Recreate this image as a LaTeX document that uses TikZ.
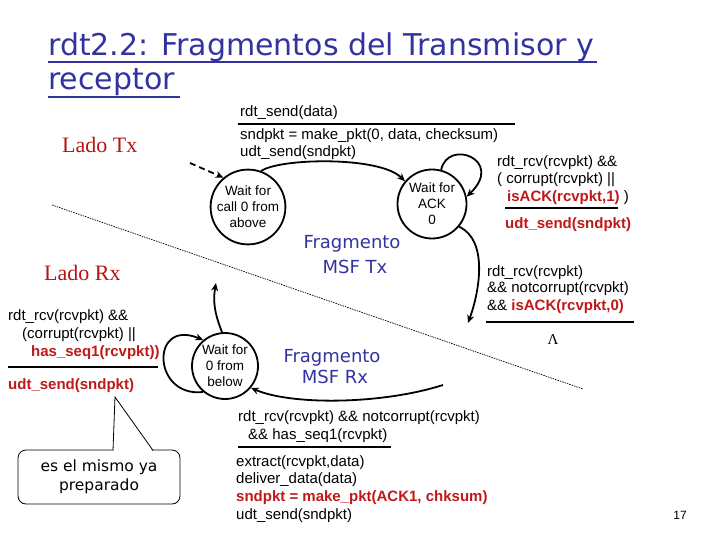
\documentclass[tikz,border=0pt]{standalone}
\usepackage{fontspec}
\setmainfont{Liberation Sans}
\newfontfamily\serifff{Liberation Serif}
\newfontfamily\comic{DejaVu Sans}
\usetikzlibrary{arrows.meta}
\definecolor{tblue}{RGB}{51,51,160}
\definecolor{tred}{RGB}{192,24,24}
\definecolor{lred}{RGB}{180,20,20}
\begin{document}
\begin{tikzpicture}[x=1pt,y=-1pt,
  state/.style={circle, draw, line width=1.8pt, minimum size=69pt, inner sep=0pt, align=center, font=\fontsize{13.5}{16}\selectfont},
  lbl/.style={anchor=base west, inner sep=0pt, font=\fontsize{15}{17}\selectfont},
  rb/.style={text=tred, font=\fontsize{15}{17}\selectfont\bfseries},
  arr/.style={line width=1.8pt, -{Stealth[length=8pt,width=7pt]}},
  bar/.style={line width=2.5pt},
  frag/.style={anchor=base, inner sep=0pt, text=tblue, font=\comic\fontsize{18}{22}\selectfont},
  lado/.style={anchor=base west, inner sep=0pt, text=lred, font=\serifff\fontsize{22}{26}\selectfont}]
\useasboundingbox (0,0) rectangle (720,540);

% title
\node[anchor=base west, inner sep=0pt, text=tblue, font=\comic\fontsize{30}{34}\selectfont] (t1) at (48,56) {rdt2.2: Fragmentos del Transmisor y};
\node[anchor=base west, inner sep=0pt, text=tblue, font=\comic\fontsize{30}{34}\selectfont] (t2) at (48,90) {receptor};
\draw[tblue, line width=2.5pt] (48,62) -- (597,62);
\draw[tblue, line width=2.5pt] (48,97) -- (180,97);

% side labels
\node[lado] (ladotx) at (62,153) {Lado Tx};
\node[lado] (ladorx) at (44,280) {Lado Rx};

% separating line
\coordinate (sepa) at (52,205);
\coordinate (sepb) at (583,389);
\draw[line width=0.7pt, dash pattern=on 1.5pt off 1pt] (sepa) -- (sepb);

% states
\node[state] (s0) at (248,207) {Wait for\\call 0 from\\above};
\node[state] (s1) at (432,204) {Wait for\\ACK\\0};
\node[state, minimum size=66pt] (r0) at (225,366) {Wait for\\0 from\\below};

% fragment labels
\node[frag] (ftx1) at (352,248) {Fragmento};
\node[frag] (ftx2) at (355,273) {MSF Tx};
\node[frag] (frx1) at (332,362) {Fragmento};
\node[frag] (frx2) at (335,383) {MSF Rx};

% sender transitions
\coordinate (init) at (190,163);
\draw[arr, dash pattern=on 6pt off 4pt] (init) -- (s0.130);
\draw[arr] (s0.70) .. controls (280,158) and (380,156) .. (s1.140);
\draw[arr] (s1.75) .. controls (448,138) and (505,160) .. (s1.12);
\coordinate (t1end) at (468,323);
\draw[arr] (s1.-40) .. controls (488,240) and (480,290) .. (t1end);

\node[lbl] (a1) at (240,117) {rdt\_send(data)};
\draw[bar] (238,124) -- (515,124);
\node[lbl] (a2) at (240,140) {sndpkt = make\_pkt(0, data, checksum)};
\node[lbl] (a3) at (240,157) {udt\_send(sndpkt)};

\node[lbl] (b1) at (497,167) {rdt\_rcv(rcvpkt) \&\&};
\node[lbl] (b2) at (497,184) {( corrupt(rcvpkt) ||};
\node[lbl] (b3) at (507,202) {{\color{tred}\bfseries isACK(rcvpkt,1)} )};
\draw[bar] (505,208) -- (618,208);
\node[lbl, rb] (b4) at (505,229) {udt\_send(sndpkt)};

\node[lbl] (c1) at (487,276) {rdt\_rcv(rcvpkt)};
\node[lbl] (c2) at (487,292) {\&\& notcorrupt(rcvpkt)};
\node[lbl] (c3) at (487,310) {\&\& {\color{tred}\bfseries isACK(rcvpkt,0)}};
\draw[bar] (486,322) -- (634,322);
\node[inner sep=0pt, font=\serifff\fontsize{15}{17}\selectfont] (lam) at (553,340) {Λ};

% receiver transitions
\draw[arr] (r0.-130) .. controls (152,398) and (150,318) .. (r0.130);
\coordinate (rup) at (216,283);
\draw[arr] (r0.95) .. controls (214,312) and (213,300) .. (rup);
\coordinate (rin) at (443,385);
\draw[arr] (rin) .. controls (380,405) and (290,405) .. (r0.-40);

\node[lbl] (d1) at (8,320) {rdt\_rcv(rcvpkt) \&\&};
\node[lbl] (d2) at (22,338) {(corrupt(rcvpkt) ||};
\node[lbl, rb] (d3) at (31,356) {has\_seq1(rcvpkt))};
\draw[bar] (8,367) -- (158,367);
\node[lbl, rb] (d4) at (8,389) {udt\_send(sndpkt)};

\node[lbl] (e1) at (238,421) {rdt\_rcv(rcvpkt) \&\& notcorrupt(rcvpkt)};
\node[lbl] (e2) at (248,439) {\&\& has\_seq1(rcvpkt)};
\draw[bar] (238,447) -- (391,447);
\node[lbl] (e3) at (236,466) {extract(rcvpkt,data)};
\node[lbl] (e4) at (236,483) {deliver\_data(data)};
\node[lbl, rb] (e5) at (236,501) {sndpkt = make\_pkt(ACK1, chksum)};
\node[lbl] (e6) at (236,519) {udt\_send(sndpkt)};

% callout
\node[draw, line width=0.8pt, rounded corners=8pt, minimum width=162pt, minimum height=54pt, inner sep=0pt, align=center, font=\comic\fontsize{15.5}{19}\selectfont] (callout) at (99,477) {es el mismo ya\\preparado};
\coordinate (tip) at (115,397);
\fill[white] (113.6,451.5) -- (tip) -- (152.4,451.5) -- cycle;
\draw[line width=0.8pt] (113,450.4) -- (tip) -- (153,450.4);

% page number
\node[inner sep=0pt, font=\fontsize{12}{14}\selectfont] (pnum) at (680,515) {17};
\end{tikzpicture}
\end{document}
